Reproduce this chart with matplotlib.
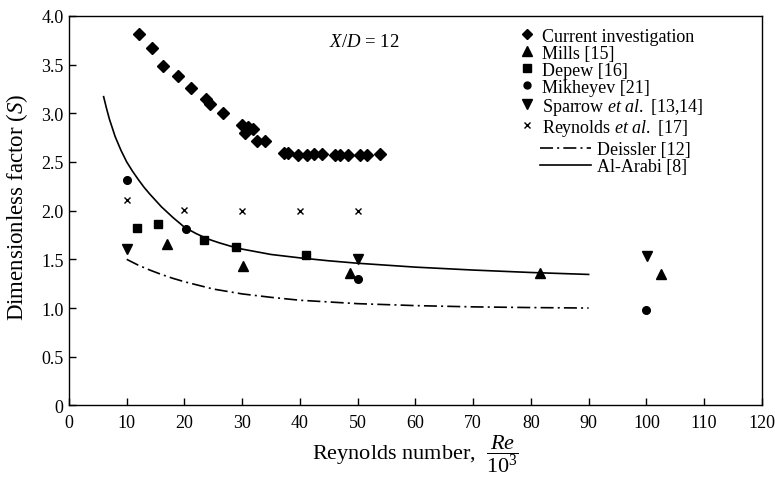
import matplotlib
matplotlib.use('Agg')
import matplotlib.pyplot as plt
from matplotlib.lines import Line2D
from matplotlib.ticker import FuncFormatter

plt.rcParams['font.family'] = 'Liberation Serif'
plt.rcParams['mathtext.fontset'] = 'custom'
plt.rcParams['mathtext.rm'] = 'Liberation Serif'
plt.rcParams['mathtext.it'] = 'Liberation Serif:italic'

# 本研究 (current investigation)
cur_re = [12.1, 14.4, 16.2, 18.8, 21.1, 23.7, 24.5, 26.6, 30.0, 30.5, 31.0, 31.8, 32.6, 34.0,
          37.2, 38.0, 39.7, 41.2, 42.5, 43.8, 46.1, 47.0, 48.4, 50.4, 51.6, 53.9]
cur_s = [3.81, 3.67, 3.48, 3.38, 3.26, 3.15, 3.09, 3.00, 2.88, 2.80, 2.86, 2.84, 2.72, 2.71,
         2.59, 2.59, 2.57, 2.57, 2.58, 2.58, 2.57, 2.57, 2.57, 2.57, 2.57, 2.58]

mills_re = [17.0, 30.1, 48.6, 81.5, 102.6]
mills_s = [1.66, 1.43, 1.36, 1.36, 1.35]

depew_re = [11.8, 15.5, 23.3, 28.9, 41.0]
depew_s = [1.82, 1.865, 1.70, 1.625, 1.546]

mikh_re = [10.0, 20.3, 50.1, 100.0]
mikh_s = [2.31, 1.81, 1.30, 0.98]

sparrow_re = [10.0, 50.1, 100.1]
sparrow_s = [1.61, 1.505, 1.53]

reyn_re = [10, 20, 30, 40, 50]
reyn_s = [2.11, 2.01, 2.00, 2.00, 2.00]

# 关联式曲线
arabi_re = [6, 6.5, 7, 7.5, 8, 9, 10, 11, 12, 13, 14, 16, 18, 20, 22, 24, 26, 28, 30,
            35, 40, 45, 50, 55, 60, 70, 80, 90]
arabi_s = [3.17, 3.05, 2.94, 2.85, 2.76, 2.62, 2.50, 2.405, 2.32, 2.24, 2.17, 2.04, 1.93, 1.83,
           1.765, 1.71, 1.67, 1.635, 1.605, 1.55, 1.515, 1.485, 1.46, 1.44, 1.42, 1.39,
           1.365, 1.345]

deis_re = [10, 12, 14, 16, 18, 20, 25, 30, 35, 40, 50, 60, 70, 80, 90]
deis_s = [1.50, 1.44, 1.39, 1.345, 1.305, 1.27, 1.195, 1.145, 1.11, 1.08, 1.045, 1.025,
          1.012, 1.005, 1.00]

fig = plt.figure(figsize=(7.75, 4.81), dpi=100)
ax = fig.add_axes([0.089, 0.155, 0.894, 0.81])

ms = dict(color='black', linestyle='none')
ax.plot(cur_re, cur_s, marker='D', markersize=6.5, **ms)
ax.plot(mills_re, mills_s, marker='^', markersize=7, **ms)
ax.plot(depew_re, depew_s, marker='s', markersize=6, **ms)
ax.plot(mikh_re, mikh_s, marker='o', markersize=5.5, **ms)
ax.plot(sparrow_re, sparrow_s, marker='v', markersize=7, **ms)
ax.plot(reyn_re, reyn_s, marker='x', markersize=4.5, markeredgewidth=1.0, **ms)
ax.plot(deis_re, deis_s, color='black', lw=1.2, dashes=(7.8, 2.5, 1.2, 2.5))
ax.plot(arabi_re, arabi_s, color='black', lw=1.2)

ax.set_xlim(0, 120)
ax.set_ylim(0, 4.0)
ax.set_xticks(range(0, 121, 10))
ax.set_yticks([0, 0.5, 1.0, 1.5, 2.0, 2.5, 3.0, 3.5, 4.0])
ax.yaxis.set_major_formatter(FuncFormatter(lambda v, p: '0' if v == 0 else '%.1f' % v))
ax.tick_params(direction='in', length=5, width=1, labelsize=13, top=False, right=False)
ax.tick_params(axis='x', pad=6)
ax.tick_params(axis='y', pad=4)
for s in ax.spines.values():
    s.set_linewidth(1.0)

ax.set_ylabel('Dimensionless factor ($S$)', fontsize=16.5)
ax.yaxis.set_label_coords(-0.056, 0.51)
ax.set_xlabel(r'Reynolds number,  $\dfrac{Re}{10^3}$', fontsize=16)
ax.xaxis.set_label_coords(0.5, -0.068)

ax.text(45.0, 3.74, '$X/D$ = 12', fontsize=13.5, va='center', ha='left')

h1 = [Line2D([], [], marker=m, color='black', linestyle='none', markersize=z)
      for m, z in [('D', 5.5), ('^', 6.5), ('s', 5.5), ('o', 5), ('v', 6.5), ('x', 4.5)]]
l1 = ['Current investigation', 'Mills [15]', 'Depew [16]', 'Mikheyev [21]',
      'Sparrow $et\\ al.$ [13,14]', 'Reynolds $et\\ al.$ [17]']
leg1 = ax.legend(h1, l1, loc='upper left', bbox_to_anchor=(0.651, 0.97), frameon=False,
                 fontsize=13, handlelength=0.8, handletextpad=0.4, labelspacing=0.0,
                 borderpad=0, borderaxespad=0)
ax.add_artist(leg1)

h2 = [Line2D([], [], color='black', lw=1.2, dashes=(7.8, 2.5, 1.2, 2.5)),
      Line2D([], [], color='black', lw=1.2)]
l2 = ['Deissler [12]', 'Al-Arabi [8]']
ax.legend(h2, l2, loc='upper left', bbox_to_anchor=(0.68, 0.678), frameon=False,
          fontsize=13, handlelength=2.8, handletextpad=0.33, labelspacing=0.0,
          borderpad=0, borderaxespad=0)

fig.savefig('out.png', dpi=100)
